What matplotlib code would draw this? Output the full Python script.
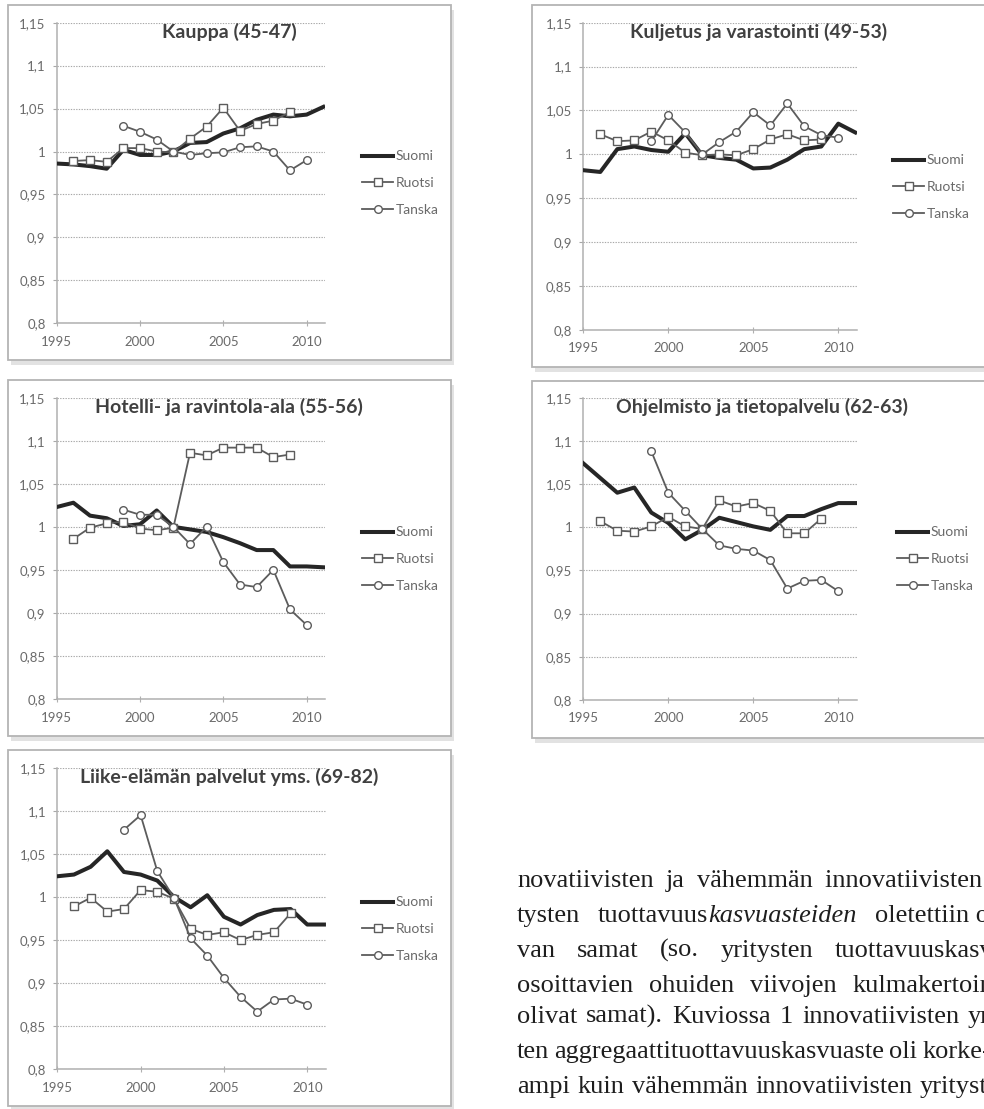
import matplotlib
matplotlib.use("Agg")
import matplotlib.pyplot as plt
from matplotlib.patches import Rectangle

W, H = 984, 1109

# data
suomi_years = list(range(1995, 2012))
ruotsi_years = list(range(1996, 2010))
tanska_years = list(range(1999, 2011))

kauppa_suomi = [0.986, 0.985, 0.983, 0.980, 1.002, 0.996, 0.996, 1.000, 1.010, 1.011,
                1.021, 1.027, 1.037, 1.043, 1.041, 1.043, 1.052]
kauppa_ruotsi = [0.989, 0.990, 0.988, 1.004, 1.004, 1.000, 0.999, 1.015, 1.029, 1.051,
                 1.024, 1.032, 1.036, 1.046]
kauppa_tanska = [1.030, 1.023, 1.014, 1.000, 0.996, 0.998, 0.999, 1.005, 1.006, 1.000,
                 0.978, 0.990]

kuljetus_suomi = [0.982, 0.980, 1.006, 1.009, 1.005, 1.003, 1.024, 0.999, 0.996, 0.994,
                  0.984, 0.985, 0.994, 1.006, 1.009, 1.035, 1.025]
kuljetus_ruotsi = [1.023, 1.015, 1.016, 1.026, 1.016, 1.002, 0.999, 1.000, 0.999, 1.006,
                   1.017, 1.023, 1.016, 1.017]
kuljetus_tanska = [1.015, 1.045, 1.025, 1.000, 1.014, 1.026, 1.048, 1.033, 1.058, 1.032,
                   1.022, 1.019]

hotelli_suomi = [1.023, 1.028, 1.013, 1.010, 1.001, 1.003, 1.019, 1.000, 0.997, 0.994,
                 0.988, 0.981, 0.973, 0.973, 0.954, 0.954, 0.953]
hotelli_ruotsi = [0.986, 0.999, 1.004, 1.006, 0.998, 0.996, 0.999, 1.086, 1.083, 1.092,
                  1.092, 1.092, 1.081, 1.084]
hotelli_tanska = [1.020, 1.014, 1.014, 1.000, 0.980, 1.000, 0.959, 0.933, 0.930, 0.950,
                  0.904, 0.886]

ohjelmisto_suomi = [1.074, 1.057, 1.040, 1.046, 1.017, 1.005, 0.986, 0.997, 1.011, 1.006,
                    1.001, 0.997, 1.013, 1.013, 1.021, 1.028, 1.028]
ohjelmisto_ruotsi = [1.007, 0.996, 0.995, 1.001, 1.012, 1.001, 0.998, 1.031, 1.024, 1.028,
                     1.019, 0.993, 0.993, 1.010]
ohjelmisto_tanska = [1.088, 1.040, 1.019, 0.998, 0.979, 0.975, 0.973, 0.962, 0.929, 0.938,
                     0.939, 0.926]

liike_suomi = [1.024, 1.026, 1.035, 1.053, 1.029, 1.026, 1.019, 1.000, 0.988, 1.002,
               0.977, 0.968, 0.979, 0.985, 0.986, 0.968, 0.968]
liike_ruotsi = [0.989, 0.999, 0.983, 0.986, 1.008, 1.006, 0.998, 0.963, 0.956, 0.959,
                0.950, 0.956, 0.959, 0.981]
liike_tanska = [1.078, 1.095, 1.030, 0.999, 0.952, 0.932, 0.906, 0.884, 0.867, 0.881,
                0.882, 0.875]

y_ticks = [0.8, 0.85, 0.9, 0.95, 1.0, 1.05, 1.1, 1.15]
y_ticklabels = ["0,8", "0,85", "0,9", "0,95", "1", "1,05", "1,1", "1,15"]
x_ticks = [1995, 2000, 2005, 2010]
series_names = ["Suomi", "Ruotsi", "Tanska"]

# panel layout in page pixels: box, axes (left, right, top, bottom), title, legend middle row
panels = [
    dict(title="Kauppa (45-47)", data=(kauppa_suomi, kauppa_ruotsi, kauppa_tanska),
         box=(8, 5, 451, 360), ax=(56.7, 325, 22.7, 323.3), tpos=(229, 32), leg=(362, 183)),
    dict(title="Kuljetus ja varastointi (49-53)", data=(kuljetus_suomi, kuljetus_ruotsi, kuljetus_tanska),
         box=(532, 5, 1000, 367), ax=(583.3, 857, 22.7, 330), tpos=(759, 32), leg=(893, 187)),
    dict(title="Hotelli- ja ravintola-ala (55-56)", data=(hotelli_suomi, hotelli_ruotsi, hotelli_tanska),
         box=(8, 380, 451, 736), ax=(56.7, 325, 397.7, 699), tpos=(229, 407), leg=(362, 559)),
    dict(title="Ohjelmisto ja tietopalvelu (62-63)", data=(ohjelmisto_suomi, ohjelmisto_ruotsi, ohjelmisto_tanska),
         box=(532, 381, 1000, 738), ax=(583.3, 857, 397.7, 700), tpos=(762, 407), leg=(897, 559)),
    dict(title="Liike-elämän palvelut yms. (69-82)", data=(liike_suomi, liike_ruotsi, liike_tanska),
         box=(8, 750, 451, 1106), ax=(57.3, 325.6, 767.7, 1069.3), tpos=(229, 777), leg=(362, 929)),
]

plt.rcParams['font.family'] = ['Lato', 'DejaVu Sans']

fig = plt.figure(figsize=(W / 100, H / 100), dpi=100)
fig.patch.set_facecolor('white')


def fx(x):
    return x / W


def fy(y):
    return 1 - y / H


def draw_box(x0, y0, x1, y1):
    shadow = Rectangle((fx(x0 + 3), fy(y1 + 5)), fx(x1 - x0), (y1 - y0) / H,
                       transform=fig.transFigure, facecolor='#e2e2e2', edgecolor='none', zorder=-3)
    box = Rectangle((fx(x0), fy(y1)), fx(x1 - x0), (y1 - y0) / H,
                    transform=fig.transFigure, facecolor='white', edgecolor='#b4b4b4',
                    linewidth=1.3, zorder=-2)
    fig.add_artist(shadow)
    fig.add_artist(box)


for p in panels:
    draw_box(*p['box'])
    l, r, t, b = p['ax']
    ax = fig.add_axes([fx(l), fy(b), fx(r - l), (b - t) / H])
    ax.set_zorder(1)
    ax.set_facecolor('none')
    suomi, ruotsi, tanska = p['data']

    ax.plot(suomi_years, suomi, color='#262626', linewidth=2.9, label=series_names[0],
            solid_joinstyle='round', zorder=3)
    ax.plot(ruotsi_years, ruotsi, color='#5c5c5c', linewidth=1.3, marker='s', markersize=5.5,
            markerfacecolor='white', markeredgecolor='#5c5c5c', markeredgewidth=1.0,
            label=series_names[1], zorder=4, clip_on=False)
    ax.plot(tanska_years, tanska, color='#5c5c5c', linewidth=1.3, marker='o', markersize=5.5,
            markerfacecolor='white', markeredgecolor='#5c5c5c', markeredgewidth=1.0,
            label=series_names[2], zorder=5, clip_on=False)

    ax.set_xlim(1995, 2011.1)
    ax.set_ylim(0.8, 1.15)
    ax.set_yticks(y_ticks)
    ax.set_yticklabels(y_ticklabels)
    ax.set_xticks(x_ticks)
    ax.set_xticklabels([str(v) for v in x_ticks])
    ax.yaxis.grid(True, color='#a8a8a8', linestyle=(0, (1.2, 1.2)), linewidth=0.8)
    for s in ['top', 'right']:
        ax.spines[s].set_visible(False)
    for s in ['left', 'bottom']:
        ax.spines[s].set_color('#b0b0b0')
        ax.spines[s].set_linewidth(1.1)
    ax.tick_params(axis='y', direction='out', length=3, color='#a8a8a8', pad=5,
                   labelsize=9.5, labelcolor='#6a6a6a')
    ax.tick_params(axis='x', direction='inout', length=4, color='#b0b0b0', pad=7,
                   labelsize=9.5, labelcolor='#6a6a6a')

    fig.text(fx(p['tpos'][0]), fy(p['tpos'][1]), p['title'], ha='center', va='center',
             fontsize=14, fontweight='bold', color='#404040')

    lx, ly = p['leg']
    leg = ax.legend(loc='center left', bbox_to_anchor=(fx(lx), fy(ly)),
                    bbox_transform=fig.transFigure, frameon=False, fontsize=10,
                    handlelength=2.25, handletextpad=0.15, labelspacing=1.05,
                    borderpad=0, borderaxespad=0, numpoints=1)
    for txt in leg.get_texts():
        txt.set_color('#6a6a6a')

# body text at the lower right, cut off by the page edge. Each word is a list of
# (text, italic) pieces; the number is where the line's last word starts on the page,
# the words before it are spread evenly (justified) from the left margin.
para_lines = [
    ([[("novatiivisten", False)], [("ja", False)], [("vähemmän", False)],
      [("innovatiivisten yri-", False)]], 825),
    ([[("tysten", False)], [("tuottavuus", False), ("kasvuasteiden", True)],
      [("oletettiin ole-", False)]], 875),
    ([[("van", False)], [("samat", False)], [("(so.", False)], [("yritysten", False)],
      [("tuottavuuskasvua", False)]], 835),
    ([[("osoittavien", False)], [("ohuiden", False)], [("viivojen", False)],
      [("kulmakertoimet", False)]], 853),
    ([[("olivat", False)], [("samat).", False)], [("Kuviossa", False)], [("1", False)],
      [("innovatiivisten", False)], [("yritys-", False)]], 968),
    ([[("ten", False)], [("aggregaattituottavuuskasvuaste", False)], [("oli", False)],
      [("korke-", False)]], 892),
    ([[("ampi", False)], [("kuin", False)], [("vähemmän", False)],
      [("innovatiivisten", False)], [("yritysten", False)]], 920),
]
baselines = [887, 922, 957, 992, 1023, 1058, 1093]
text_left = 517
renderer = fig.canvas.get_renderer()


def body_text(s, italic, x, base):
    return fig.text(fx(x), fy(base), s, ha='left', va='baseline', fontsize=19,
                    family='Liberation Serif', style='italic' if italic else 'normal',
                    color='#1e1e1e')


for (words, last_x), base in zip(para_lines, baselines):
    widths = []
    for word in words[:-1]:
        w = 0
        for s, it in word:
            t = body_text(s, it, 0, base)
            w += t.get_window_extent(renderer).width
            t.remove()
        widths.append(w)
    gap = max((last_x - text_left - sum(widths)) / (len(words) - 1), 5)
    x = text_left
    for word in words:
        for s, it in word:
            t = body_text(s, it, x, base)
            x += t.get_window_extent(renderer).width
        x += gap

fig.savefig("out.png", dpi=100, facecolor='white')
